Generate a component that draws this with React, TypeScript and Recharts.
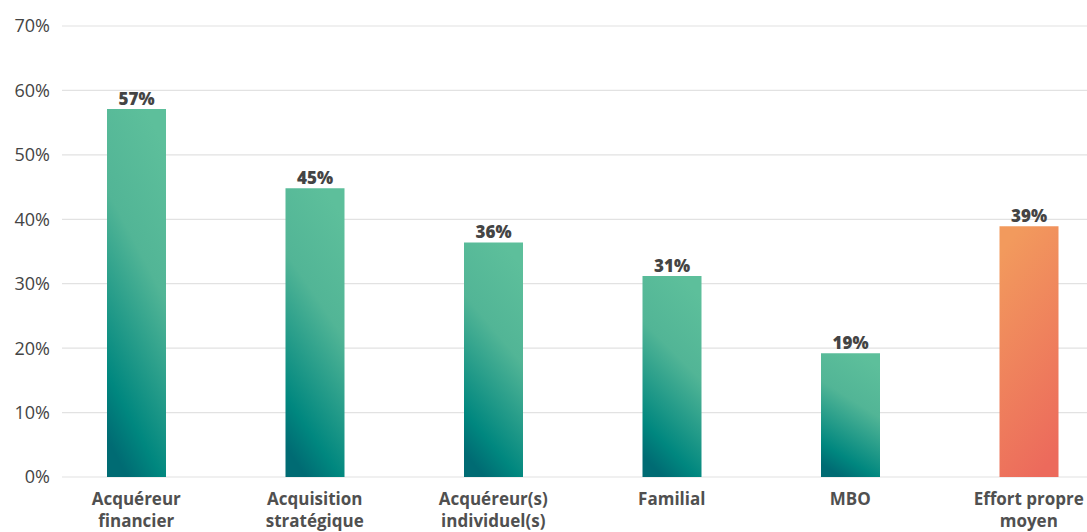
import { Bar, BarChart, CartesianGrid, Cell, LabelList, XAxis, YAxis } from "recharts";

// category names, "\n" marks the line break used in the axis label
const categories = [
  "Acquéreur\nfinancier",
  "Acquisition\nstratégique",
  "Acquéreur(s)\nindividuel(s)",
  "Familial",
  "MBO",
  "Effort propre\nmoyen",
];

// share in percent
const shares = [57.1, 44.8, 36.4, 31.2, 19.2, 38.9];

// last bar is the average, drawn in orange
const isAverage = [false, false, false, false, false, true];

const yTicks = [0, 10, 20, 30, 40, 50, 60, 70];

const FONT = "'Open Sans', 'Noto Sans', sans-serif";

const data = categories.map((name, i) => ({
  name,
  value: shares[i],
  avg: isAverage[i],
}));

const CategoryTick = (props: any) => {
  const { x, y, payload } = props;
  const lines = String(payload.value).split("\n");
  return (
    <g transform={`translate(${x},${y})`}>
      {lines.map((line, i) => (
        <text
          key={i}
          x={0}
          y={13 + i * 22}
          textAnchor="middle"
          dominantBaseline="central"
          fill="#505050"
          fontSize={17}
          fontWeight={700}
          fontFamily={FONT}
        >
          {line}
        </text>
      ))}
    </g>
  );
};

export default function App() {
  return (
    <div style={{ position: "absolute", left: 0, top: 0, background: "#fff" }}>
      <BarChart
        width={1087}
        height={532}
        data={data}
        margin={{ top: 26, right: 0, left: 0, bottom: 0 }}
      >
        <defs>
          <linearGradient id="gradGreen" x1="0.65" y1="0" x2="0.35" y2="1">
            <stop offset="0%" stopColor="#5dbf9b" />
            <stop offset="38%" stopColor="#52b596" />
            <stop offset="84%" stopColor="#00877f" />
            <stop offset="100%" stopColor="#006b73" />
          </linearGradient>
          <linearGradient id="gradOrange" x1="0.35" y1="0" x2="0.65" y2="1">
            <stop offset="0%" stopColor="#f29a5d" />
            <stop offset="100%" stopColor="#ec6a5c" />
          </linearGradient>
        </defs>
        <CartesianGrid vertical={false} stroke="#e2e2e2" strokeWidth={1.2} />
        <XAxis
          dataKey="name"
          axisLine={false}
          tickLine={false}
          height={55}
          interval={0}
          padding={{ left: -15, right: -31 }}
          tick={<CategoryTick />}
        />
        <YAxis
          width={62}
          domain={[0, 70]}
          ticks={yTicks}
          axisLine={false}
          tickLine={false}
          tickMargin={6}
          tickFormatter={(v) => `${v}%`}
          tick={{ fill: "#444", fontSize: 18, fontFamily: FONT }}
        />
        <Bar dataKey="value" barSize={59} isAnimationActive={false}>
          {data.map((d, i) => (
            <Cell key={i} fill={d.avg ? "url(#gradOrange)" : "url(#gradGreen)"} />
          ))}
          <LabelList
            dataKey="value"
            position="top"
            offset={4}
            formatter={(v: any) => `${Math.round(v)}%`}
            style={{ fill: "#444", fontSize: 17, fontWeight: 800, fontFamily: FONT }}
          />
        </Bar>
      </BarChart>
    </div>
  );
}
